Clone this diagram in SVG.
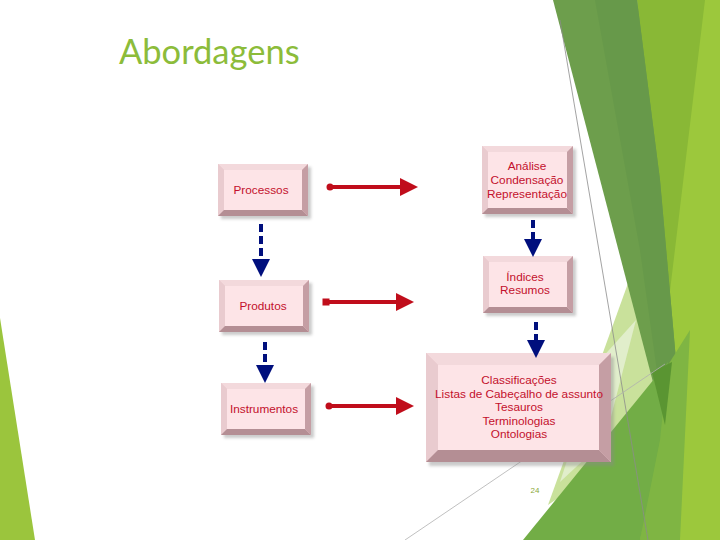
<svg xmlns="http://www.w3.org/2000/svg" width="720" height="540" viewBox="0 0 720 540">
<defs>
<style>
.lbl{font-family:"Liberation Sans",Arial,sans-serif;font-size:11.8px;fill:#c3102c;text-anchor:middle}
.face{fill:#fde4e7}
.bt{fill:#f3d9dc}
.bl{fill:#e9cbcf}
.bb{fill:#b48e94}
.br{fill:#c59ea4}
.shd{fill:#8a8a8a;opacity:0.45;filter:url(#blur)}
.red{stroke:#c00d1b;stroke-width:4;fill:none}
.blue{stroke:#000f7d;stroke-width:4;fill:none;stroke-dasharray:8 4}
</style>
<filter id="blur" x="-10%" y="-10%" width="120%" height="120%"><feGaussianBlur stdDeviation="1.5"/></filter>
<marker id="rh" viewBox="0 0 18 18" refX="1" refY="9" markerWidth="18" markerHeight="18" markerUnits="userSpaceOnUse" orient="auto"><path d="M0,0 L18,9 L0,18 z" fill="#c00d1b"/></marker>
<marker id="rc" viewBox="0 0 8 8" refX="4" refY="4" markerWidth="8" markerHeight="8" markerUnits="userSpaceOnUse"><circle cx="4" cy="4" r="3.5" fill="#c00d1b"/></marker>
<marker id="rs" viewBox="0 0 8 8" refX="4" refY="4" markerWidth="8" markerHeight="8" markerUnits="userSpaceOnUse"><rect x="0.5" y="0.5" width="7" height="7" fill="#c00d1b"/></marker>
<marker id="bh" viewBox="0 0 18 18" refX="1" refY="9" markerWidth="18" markerHeight="18" markerUnits="userSpaceOnUse" orient="auto"><path d="M0,0 L18,9 L0,18 z" fill="#000f7d"/></marker>
</defs>
<rect width="720" height="540" fill="#ffffff"/>
<g id="background">
<polygon points="0,318 35,540 0,540" fill="#9bc53d"/>
<polygon points="690,0 720,0 720,540 628,540" fill="#9cc83c"/>
<polygon points="637,0 705,0 640,540 655,420" fill="#89b836"/>
<polygon points="640,250 665,425 548,505" fill="#c9e19b"/>
<polygon points="600,360 636,320 605,440 560,482" fill="#e1eecb"/>
<polygon points="553,0 637,0 660,180 676,360 665,428" fill="#6d9e4c"/>
<polygon points="595,0 637,0 660,180 676,360 665,428 640,250" fill="#67994a"/>
<polygon points="668,365 690,330 680,540 640,540" fill="#7fb543"/>
<polygon points="523,540 668,362 660,440 640,540" fill="#72ad46"/>
<polygon points="652,372 672,362 665,425" fill="#5a9532"/>
<line x1="560" y1="20" x2="648" y2="540" stroke="#8c8c8c" stroke-width="0.8"/>
<line x1="405" y1="540" x2="665" y2="364" stroke="#b0b0b0" stroke-width="0.8"/>
</g>
<text x="119" y="64" font-family="Lato,'Open Sans',sans-serif" font-size="34.5" fill="#8cbc3a">Abordagens</text>
<text x="535" y="493" font-family="'Liberation Sans',Arial,sans-serif" font-size="8" fill="#8aa83a" text-anchor="middle">24</text>
<g id="n-processos">
<rect class="shd" x="221" y="167" width="90" height="52"/>
<rect x="218" y="164" width="90" height="52" fill="#e8c8cc"/>
<polygon class="bt" points="218,164 308,164 302,170 224,170"/>
<polygon class="bl" points="218,164 224,170 224,210 218,216"/>
<polygon class="bb" points="218,216 224,210 302,210 308,216"/>
<polygon class="br" points="308,164 308,216 302,210 302,170"/>
<rect class="face" x="224" y="170" width="78" height="40"/>
<text class="lbl" x="261" y="194">Processos</text>
</g>
<g id="n-produtos">
<rect class="shd" x="222" y="283" width="90" height="52"/>
<rect x="219" y="280" width="90" height="52" fill="#e8c8cc"/>
<polygon class="bt" points="219,280 309,280 303,286 225,286"/>
<polygon class="bl" points="219,280 225,286 225,326 219,332"/>
<polygon class="bb" points="219,332 225,326 303,326 309,332"/>
<polygon class="br" points="309,280 309,332 303,326 303,286"/>
<rect class="face" x="225" y="286" width="78" height="40"/>
<text class="lbl" x="263" y="310">Produtos</text>
</g>
<g id="n-instrumentos">
<rect class="shd" x="224" y="386" width="90" height="52"/>
<rect x="221" y="383" width="90" height="52" fill="#e8c8cc"/>
<polygon class="bt" points="221,383 311,383 305,389 227,389"/>
<polygon class="bl" points="221,383 227,389 227,429 221,435"/>
<polygon class="bb" points="221,435 227,429 305,429 311,435"/>
<polygon class="br" points="311,383 311,435 305,429 305,389"/>
<rect class="face" x="227" y="389" width="78" height="40"/>
<text class="lbl" x="264" y="413">Instrumentos</text>
</g>
<g id="n-analise">
<rect class="shd" x="485" y="149" width="91" height="68"/>
<rect x="482" y="146" width="91" height="68" fill="#e8c8cc"/>
<polygon class="bt" points="482,146 573,146 567,152 488,152"/>
<polygon class="bl" points="482,146 488,152 488,208 482,214"/>
<polygon class="bb" points="482,214 488,208 567,208 573,214"/>
<polygon class="br" points="573,146 573,214 567,208 567,152"/>
<rect class="face" x="488" y="152" width="79" height="56"/>
<text class="lbl" x="527" y="170">Análise</text>
<text class="lbl" x="527" y="184">Condensação</text>
<text class="lbl" x="527" y="198">Representação</text>
</g>
<g id="n-indices">
<rect class="shd" x="486" y="259" width="90" height="57"/>
<rect x="483" y="256" width="90" height="57" fill="#e8c8cc"/>
<polygon class="bt" points="483,256 573,256 567,262 489,262"/>
<polygon class="bl" points="483,256 489,262 489,307 483,313"/>
<polygon class="bb" points="483,313 489,307 567,307 573,313"/>
<polygon class="br" points="573,256 573,313 567,307 567,262"/>
<rect class="face" x="489" y="262" width="78" height="45"/>
<text class="lbl" x="525" y="281">Índices</text>
<text class="lbl" x="525" y="294">Resumos</text>
</g>
<g id="n-classificacoes">
<rect class="shd" x="429" y="357" width="185" height="109"/>
<rect x="426" y="353" width="185" height="109" fill="#e8c8cc"/>
<polygon class="bt" points="426,353 611,353 599,365 438,365"/>
<polygon class="bl" points="426,353 438,365 438,450 426,462"/>
<polygon class="bb" points="426,462 438,450 599,450 611,462"/>
<polygon class="br" points="611,353 611,462 599,450 599,365"/>
<rect class="face" x="438" y="365" width="161" height="85"/>
<text class="lbl" x="519" y="384">Classificações</text>
<text class="lbl" x="519" y="398">Listas de Cabeçalho de assunto</text>
<text class="lbl" x="519" y="411">Tesauros</text>
<text class="lbl" x="519" y="425">Terminologias</text>
<text class="lbl" x="519" y="438">Ontologias</text>
</g>
<g id="connectors">
<line class="red" x1="330" y1="187" x2="401" y2="187" marker-start="url(#rc)" marker-end="url(#rh)"/>
<line class="red" x1="326" y1="302" x2="397" y2="302" marker-start="url(#rs)" marker-end="url(#rh)"/>
<line class="red" x1="329" y1="406" x2="397" y2="406" marker-start="url(#rc)" marker-end="url(#rh)"/>
<line class="blue" x1="261" y1="224" x2="261" y2="260" marker-end="url(#bh)"/>
<line class="blue" x1="265" y1="342" x2="265" y2="366" marker-end="url(#bh)"/>
<line class="blue" x1="533" y1="220" x2="533" y2="240" marker-end="url(#bh)"/>
<line class="blue" x1="536" y1="322" x2="536" y2="341" marker-end="url(#bh)"/>
</g>
</svg>
